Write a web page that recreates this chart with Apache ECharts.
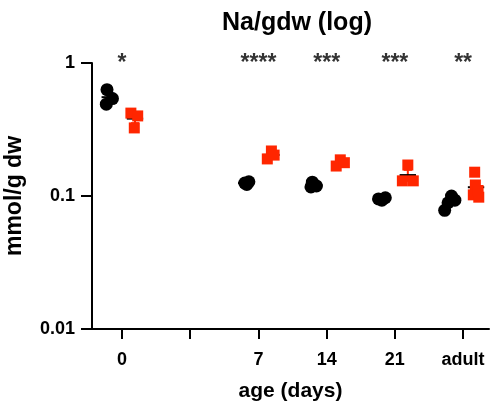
<!DOCTYPE html>
<html><head><meta charset="utf-8">
<script src="https://cdn.jsdelivr.net/npm/echarts@6/dist/echarts.min.js"></script>
<style>html,body{margin:0;padding:0;background:#fff}#c{width:492px;height:408px}</style>
</head><body><div id="c"></div>
<script>
// categories (x positions 0..5, position 1 is an empty gap)
const categories = ['0', '', '7', '14', '21', 'adult'];
const groupPos = [0, 2, 3, 4, 5];
const stars = ['*', '****', '***', '***', '**'];
// black circles (group A) values per timepoint
const blackVals = [
  [0.63, 0.54, 0.49],
  [0.125, 0.128, 0.122],
  [0.127, 0.119, 0.117],
  [0.095, 0.097, 0.093],
  [0.1, 0.093, 0.089, 0.078]
];
const blackJit = [
  [-0.22, -0.14, -0.23],
  [-0.2, -0.14, -0.17],
  [-0.21, -0.15, -0.23],
  [-0.24, -0.14, -0.19],
  [-0.17, -0.12, -0.22, -0.27]
];
// red squares (group B)
const redVals = [
  [0.42, 0.40, 0.325],
  [0.218, 0.19, 0.203],
  [0.187, 0.168, 0.178],
  [0.171, 0.13, 0.13],
  [0.151, 0.121, 0.102, 0.098, 0.11]
];
const redJit = [
  [0.13, 0.23, 0.18],
  [0.19, 0.13, 0.23],
  [0.2, 0.14, 0.26],
  [0.19, 0.11, 0.27],
  [0.17, 0.18, 0.15, 0.23, 0.22]
];

function pts(vals, jit) {
  const out = [];
  vals.forEach((arr, i) => arr.forEach((v, j) => out.push([groupPos[i] + jit[i][j], v])));
  return out;
}
function stats(vals, off) {
  return vals.map((arr, i) => {
    const n = arr.length, m = arr.reduce((a, b) => a + b, 0) / n;
    const sd = Math.sqrt(arr.reduce((a, b) => a + (b - m) * (b - m), 0) / (n - 1));
    return [groupPos[i] + off, m, sd / Math.sqrt(n)];
  });
}
function errSeries(data, color) {
  return {
    type: 'custom', z: 1, data: data,
    renderItem: function (params, api) {
      const x = api.value(0), m = api.value(1), se = api.value(2);
      const c = api.coord([x, m]);
      const hi = api.coord([x, m + se]);
      const lo = api.coord([x, Math.max(m - se, 0.0101)]);
      const w = api.size([0.12, 0])[0];
      return { type: 'group', children: [
        { type: 'line', shape: { x1: c[0], y1: hi[1], x2: c[0], y2: lo[1] }, style: { stroke: color, lineWidth: 2 } },
        { type: 'line', shape: { x1: c[0] - w * 0.5, y1: hi[1], x2: c[0] + w * 0.5, y2: hi[1] }, style: { stroke: color, lineWidth: 2 } },
        { type: 'line', shape: { x1: c[0] - w * 0.5, y1: lo[1], x2: c[0] + w * 0.5, y2: lo[1] }, style: { stroke: color, lineWidth: 2 } },
        { type: 'line', shape: { x1: c[0] - w, y1: c[1], x2: c[0] + w, y2: c[1] }, style: { stroke: '#000', lineWidth: 2 } }
      ]};
    }
  };
}

const font = 'Liberation Sans, Arial, sans-serif';
const chart = echarts.init(document.getElementById('c'));
chart.setOption({
  animation: false,
  title: { text: 'Na/gdw (log)', left: 292, top: 6, textAlign: 'center',
    textStyle: { fontFamily: font, fontWeight: 'bold', fontSize: 25, color: '#000' } },
  grid: { left: 92, right: 3, top: 63, bottom: 79, containLabel: false, outerBoundsMode: 'none' },
  xAxis: {
    type: 'value', min: -0.44, max: 5.38,
    name: 'age (days)', nameLocation: 'middle', nameGap: 52,
    nameTextStyle: { fontFamily: font, fontWeight: 'bold', fontSize: 21, color: '#000' },
    axisLine: { onZero: false, lineStyle: { color: '#000', width: 2 } },
    axisTick: { show: true, length: 10, lineStyle: { color: '#000', width: 2 }, customValues: [0, 1, 2, 3, 4, 5] },
    axisLabel: { customValues: [0, 2, 3, 4, 5], margin: 22,
      formatter: v => categories[Math.round(v)],
      fontFamily: font, fontWeight: 'bold', fontSize: 18, color: '#000' },
    splitLine: { show: false }
  },
  yAxis: {
    type: 'log', logBase: 10, min: 0.01, max: 1,
    name: 'mmol/g dw', nameLocation: 'middle', nameGap: 66,
    nameTextStyle: { fontFamily: font, fontWeight: 'bold', fontSize: 23, color: '#000' },
    axisLine: { show: true, onZero: false, lineStyle: { color: '#000', width: 2 } },
    axisTick: { show: true, length: 11, lineStyle: { color: '#000', width: 2 } },
    minorTick: { show: false },
    axisLabel: { margin: 17, fontFamily: font, fontWeight: 'bold', fontSize: 18, color: '#000',
      formatter: v => String(v) },
    splitLine: { show: false }
  },
  series: [
    errSeries(stats(blackVals, -0.18), '#2a5bd7'),
    errSeries(stats(redVals, 0.19), '#ff2600'),
    { type: 'scatter', z: 3, symbol: 'circle', symbolSize: 13, itemStyle: { color: '#000', opacity: 1 },
      data: pts(blackVals, blackJit) },
    { type: 'scatter', z: 4, symbol: 'rect', symbolSize: 11, itemStyle: { color: '#ff2600', opacity: 1 },
      data: pts(redVals, redJit) },
    { type: 'scatter', z: 5, symbolSize: 0, silent: true,
      data: groupPos.map((p, i) => ({ value: [p, 1], name: stars[i] })),
      label: { show: true, position: 'inside', offset: [0, 1], formatter: p => p.name,
        fontFamily: font, fontWeight: 'bold', fontSize: 23, color: '#000' } }
  ]
});
</script></body></html>
